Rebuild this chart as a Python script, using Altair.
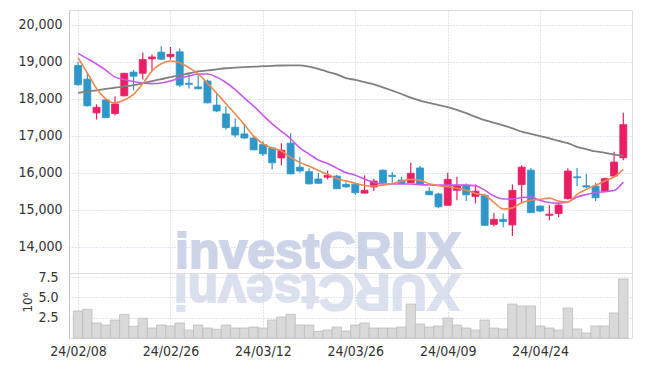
import altair as alt
import pandas as pd

# ---------------- data ----------------
dates = [
    "24/02/08", "24/02/13", "24/02/14", "24/02/15", "24/02/16", "24/02/19", "24/02/20", "24/02/21",
    "24/02/22", "24/02/23", "24/02/26", "24/02/27", "24/02/28", "24/02/29", "24/03/04", "24/03/05",
    "24/03/06", "24/03/07", "24/03/08", "24/03/11", "24/03/12", "24/03/13", "24/03/14", "24/03/15",
    "24/03/18", "24/03/19", "24/03/20", "24/03/21", "24/03/22", "24/03/25", "24/03/26", "24/03/27",
    "24/03/28", "24/03/29", "24/04/01", "24/04/02", "24/04/03", "24/04/04", "24/04/05", "24/04/08",
    "24/04/09", "24/04/11", "24/04/12", "24/04/15", "24/04/16", "24/04/17", "24/04/18", "24/04/19",
    "24/04/22", "24/04/23", "24/04/24", "24/04/25", "24/04/26", "24/04/29", "24/04/30", "24/05/02",
    "24/05/03", "24/05/07", "24/05/08", "24/05/09",
]

opens = [18900, 18530, 17620, 17970, 17600, 18080, 18720, 18690, 19080, 19260,
         19140, 19270, 18420, 18320, 18480, 17830, 17590, 17230, 17050, 16940,
         16765, 16670, 16400, 16800, 16150, 16030, 15830, 15880, 15910, 15685,
         15690, 15450, 15615, 16070, 15930, 15800, 15730, 16130, 15500, 15425,
         15120, 15525, 15640, 15360, 15390, 14605, 14740, 14590, 15680, 16070,
         15100, 14850, 14900, 15300, 15890, 15650, 15640, 15500, 15910, 16405]
highs = [19000, 18700, 17850, 18000, 18070, 18700, 18780, 19250, 19200, 19420,
         19400, 19360, 18670, 18660, 18520, 18120, 17800, 17470, 17290, 17000,
         16850, 16700, 16800, 17070, 16420, 16120, 16000, 16060, 15940, 15740,
         15720, 15930, 15840, 16090, 16020, 15890, 16270, 16180, 15610, 15460,
         16000, 15890, 15710, 15685, 15430, 14920, 14900, 15685, 16200, 16130,
         15120, 15120, 15190, 16120, 16130, 15975, 15730, 15870, 16570, 17620]
lows = [18350, 17790, 17440, 17480, 17550, 18060, 18230, 18520, 18750, 19050,
        19060, 18320, 18280, 18260, 17880, 17640, 17160, 16950, 16910, 16610,
        16450, 16090, 16200, 15960, 16000, 15680, 15700, 15820, 15560, 15590,
        15400, 15440, 15505, 15720, 15730, 15700, 15720, 15680, 15400, 15040,
        15110, 15255, 15235, 15170, 14570, 14550, 14530, 14290, 15160, 14910,
        14935, 14715, 14800, 15280, 15640, 15580, 15235, 15490, 15880, 16335]
closes = [18380, 17810, 17770, 17490, 17860, 18690, 18610, 19060, 19130, 19070,
          19200, 18370, 18390, 18270, 17890, 17670, 17220, 17020, 16940, 16620,
          16510, 16270, 16610, 15970, 16050, 15700, 15715, 15930, 15570, 15620,
          15460, 15525, 15775, 15730, 15900, 15710, 15985, 15690, 15405, 15080,
          15820, 15640, 15405, 15500, 14580, 14740, 14680, 15525, 16150, 14920,
          14965, 14880, 15127, 16045, 15865, 15615, 15325, 15840, 16290, 17300]

ma_short = [19110, 18700, 18280, 18000, 17890, 17965, 18120, 18405, 18750, 18945,
            19020, 18975, 18840, 18675, 18420, 18150, 17870, 17590, 17300, 16990,
            16785, 16665, 16590, 16415, 16280, 16180, 16060, 15960, 15840, 15780,
            15715, 15655, 15640, 15665, 15710, 15770, 15820, 15800, 15700, 15650,
            15620, 15580, 15530, 15440, 15390, 15200, 15020, 15050, 15190, 15255,
            15280, 15315, 15235, 15210, 15415, 15550, 15660, 15775, 15885, 16090]
ma_mid = [19225, 19085, 18940, 18775, 18585, 18520, 18465, 18425, 18410, 18425,
          18480, 18560, 18615, 18670, 18670, 18585, 18440, 18250, 18020, 17800,
          17560, 17320, 17120, 16920, 16670, 16505, 16345, 16250, 16125, 16000,
          15935, 15830, 15735, 15695, 15695, 15695, 15695, 15680, 15670, 15665,
          15665, 15665, 15665, 15650, 15530, 15370, 15290, 15290, 15330, 15345,
          15250, 15195, 15180, 15210, 15345, 15410, 15465, 15490, 15520, 15750]
ma_long = [18160, 18195, 18230, 18265, 18300, 18335, 18370, 18420, 18475, 18530,
           18585, 18635, 18690, 18740, 18765, 18795, 18825, 18840, 18855, 18870,
           18880, 18890, 18900, 18905, 18905, 18870, 18810, 18730, 18660, 18560,
           18510, 18450, 18390, 18310, 18220, 18130, 18030, 17950, 17890, 17830,
           17775, 17700, 17610, 17510, 17420, 17350, 17280, 17200, 17110, 17050,
           16990, 16930, 16860, 16800, 16700, 16640, 16575, 16540, 16490, 16460]

volumes = [3320000, 3530000, 1850000, 1600000, 2210000, 2910000, 1440000, 2420000, 1230000, 1600000,
           1480000, 1850000, 980000, 1600000, 1230000, 1070000, 1600000, 1230000, 1230000, 1350000,
           1230000, 2210000, 2580000, 2910000, 1600000, 1600000, 800000, 980000, 1350000, 860000,
           1600000, 1850000, 1230000, 1230000, 1230000, 1350000, 4180000, 1720000, 1350000, 1480000,
           2460000, 1600000, 1230000, 980000, 2210000, 1230000, 1110000, 4180000, 3940000, 3940000,
           1480000, 1230000, 980000, 3690000, 1110000, 610000, 1480000, 1480000, 3080000, 7260000]

price_ticks = [14000, 15000, 16000, 17000, 18000, 19000, 20000]
volume_ticks = [2500000, 5000000, 7500000]
date_tick_index = [0, 10, 20, 30, 40, 50]
watermark = ["investCRUX"]

# ---------------- styling ----------------
UP = "#e91e63"
DOWN = "#2f96c9"
FONT = "DejaVu Sans Condensed, Liberation Sans Narrow, Roboto Condensed, DejaVu Sans, sans-serif"
WMFONT = "Liberation Sans, Arial, sans-serif"
WMCOLOR = "#cdd4e8"
GRID = "#c3c9dc"
W = 563
H_PRICE = 263
H_VOL = 65

df = pd.DataFrame({
    "i": list(range(len(dates))),
    "date": dates,
    "open": opens, "high": highs, "low": lows, "close": closes,
    "ma_short": ma_short, "ma_mid": ma_mid, "ma_long": ma_long,
    "volume": volumes,
})
df["dir"] = ["up" if c >= o else "down" for o, c in zip(opens, closes)]

xscale = alt.Scale(domain=[-0.44, 59.4], nice=False, zero=False)
label_expr = "[" + ",".join("'" + d + "'" for d in dates) + "][datum.value]"

x_price = alt.X("i:Q", scale=xscale, axis=alt.Axis(
    values=date_tick_index, labels=False, ticks=False, domain=False, title=None,
    grid=True, gridDash=[1, 2], gridColor=GRID, gridWidth=1))
yscale = alt.Scale(domain=[13290, 20400], nice=False, zero=False)
y_price = alt.Y("low:Q", scale=yscale, axis=alt.Axis(
    values=price_ticks, labelExpr="format(datum.value, ',')", title=None, ticks=False, labelPadding=7,
    labelFont=FONT, labelFontSize=14, labelColor="#333333",
    grid=True, gridDash=[1, 2], gridColor=GRID, domainColor="#c4c4c4"))
dir_color = alt.Color("dir:N", scale=alt.Scale(domain=["up", "down"], range=[UP, DOWN]), legend=None)
dir_stroke = alt.Stroke("dir:N", scale=alt.Scale(domain=["up", "down"], range=[UP, DOWN]), legend=None)

base = alt.Chart(df)

mark_wm = alt.Chart(pd.DataFrame({"t": watermark})).mark_text(
    font=WMFONT, fontWeight="bold", fontSize=50, stroke=WMCOLOR, strokeWidth=2,
    color=WMCOLOR, align="left", baseline="alphabetic"
).encode(x=alt.value(106), y=alt.value(258), text="t:N")

wicks = base.mark_rule(strokeWidth=1.2).encode(x=x_price, y=y_price, y2="high:Q", color=dir_color)
bodies = base.mark_bar(size=7, strokeWidth=0.8).encode(
    x="i:Q", y="open:Q", y2="close:Q", color=dir_color, stroke=dir_stroke)
line_long = base.mark_line(color="#808080", strokeWidth=1.8, interpolate="monotone").encode(
    x="i:Q", y="ma_long:Q")
line_mid = base.mark_line(color="#c957ee", strokeWidth=1.6, interpolate="monotone").encode(
    x="i:Q", y="ma_mid:Q")
line_short = base.mark_line(color="#f0884e", strokeWidth=1.6, interpolate="monotone").encode(
    x="i:Q", y="ma_short:Q")

price = alt.layer(mark_wm, wicks, bodies, line_long, line_mid, line_short).properties(
    width=W, height=H_PRICE)

wm_reflect = alt.Chart(pd.DataFrame({"t": [watermark[0][::-1]]})).mark_text(
    font=WMFONT, fontWeight="bold", fontSize=50, stroke=WMCOLOR, strokeWidth=2,
    color=WMCOLOR, opacity=0.7, align="left", baseline="alphabetic", angle=180
).encode(x=alt.value(391), y=alt.value(2), text="t:N")

vol_bars = base.mark_bar(size=9.4, color="#d9d9d9", stroke="#bdbdbd", strokeWidth=0.8).encode(
    x=alt.X("i:Q", scale=xscale, axis=alt.Axis(
        values=date_tick_index, labelExpr=label_expr, title=None, ticks=False, domain=False,
        labelPadding=6, labelFont=FONT, labelFontSize=14, labelColor="#333333",
        grid=True, gridDash=[1, 2], gridColor=GRID)),
    y=alt.Y("volume:Q", scale=alt.Scale(domain=[0, 8000000], nice=False), axis=alt.Axis(
        values=volume_ticks, labelExpr="format(datum.value / 1000000, '.1f')",
        title="10⁶", titleFont="DejaVu Sans, sans-serif", titleFontSize=12, titleFontWeight="normal",
        titleColor="#333333", titleX=-35, titleY=29, titleAngle=-90,
        ticks=False, labelPadding=11, labelFont=FONT, labelFontSize=14, labelColor="#333333",
        grid=True, gridDash=[1, 2], gridColor=GRID, domainColor="#c4c4c4")),
)

volume = alt.layer(wm_reflect, vol_bars).properties(width=W, height=H_VOL)

chart = alt.vconcat(price, volume, spacing=0, bounds="flush").properties(
    padding={"left": 17, "top": 9, "right": 5, "bottom": 5}
).configure_view(stroke="#d6d9e4", strokeWidth=1).configure(background="white")

chart.save("out.html", embed_options={"renderer": "svg", "actions": False})
